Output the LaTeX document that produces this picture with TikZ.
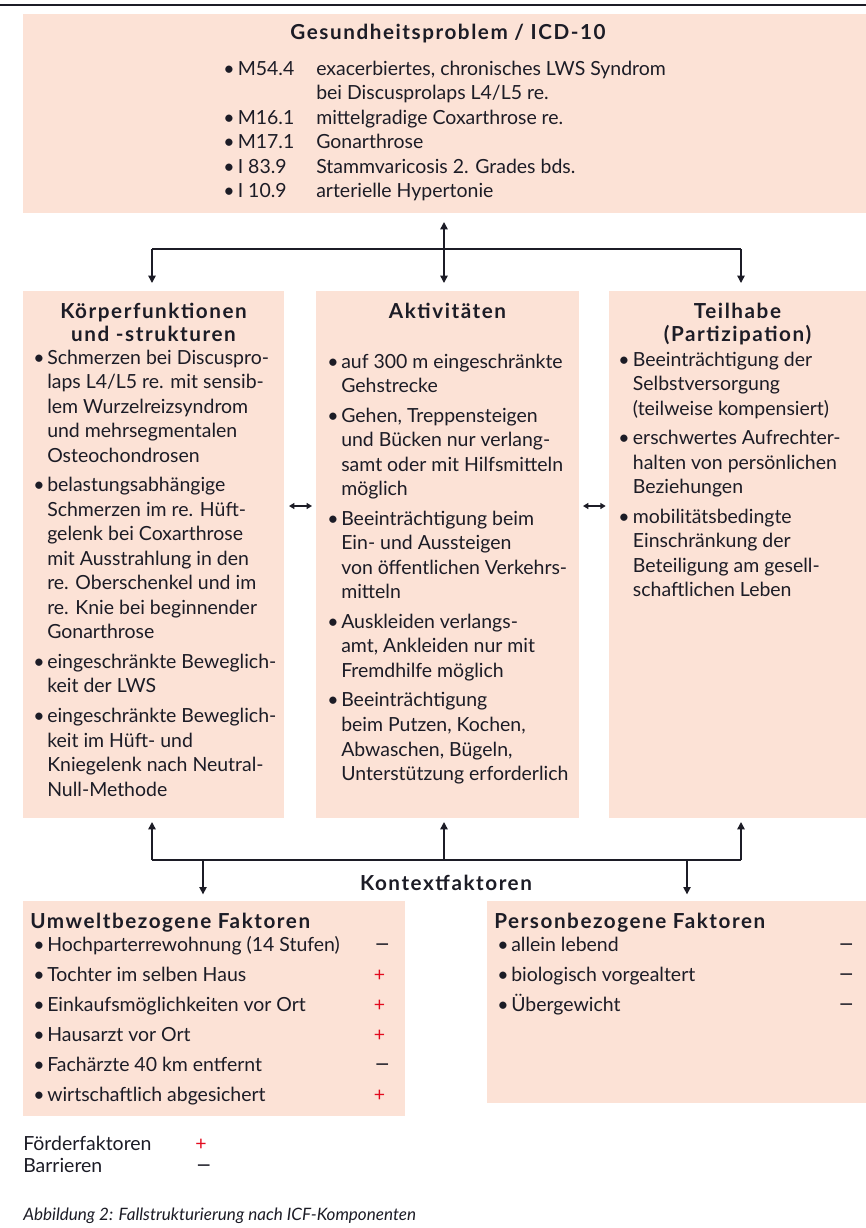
\documentclass[tikz,border=0pt]{standalone}
\usepackage{fontspec}
\setmainfont{Lato}
\newfontfamily\headfam{Lato}[LetterSpace=7.5]
\usetikzlibrary{arrows.meta,fit}
\definecolor{peach}{HTML}{FCE2D6}
\definecolor{ink}{HTML}{1C1C26}
\definecolor{plusred}{HTML}{E30A1E}
\newcommand\bodyfnt{\fontsize{14.6pt}{18.4pt}\selectfont}
\newcommand\headfnt{\headfam\fontsize{15.5pt}{17.5pt}\selectfont\bfseries}
\newcommand\capfnt{\fontsize{12.8pt}{15pt}\selectfont\itshape}
\newcommand\pl{\textcolor{plusred}{+}}
\newcommand\mi{\scalebox{1.5}[1.2]{–}}
\newcommand\bu{\textbullet}
\begin{document}
\begin{tikzpicture}[x=0.75pt,y=-0.75pt,
  box/.style={fill=peach, draw=none, inner sep=0pt, outer sep=0pt},
  txt/.style={inner sep=0pt, text=ink, font=\bodyfnt},
  hd/.style={inner sep=0pt, text=ink, font=\headfnt},
  capt/.style={inner sep=0pt, text=ink, font=\capfnt},
  conn/.style={draw=ink, line width=1.1pt},
  tip/.style={-{Triangle[width=5.5pt,length=5.5pt]}},
  dbl/.style={{Triangle[width=4.5pt,length=4pt]}-{Triangle[width=4.5pt,length=4pt]}}]
\useasboundingbox (0,0) rectangle (866,1228);
\fill[white] (0,0) rectangle (866,1228);
\draw[line width=1.7pt, ink] (0,5) -- (866,5);

% boxes
\node[box, fit={(23,14) (866,213)}] (gp) {};
\node[box, fit={(23,291) (284,818)}] (kt) {};
\node[box, fit={(316,291) (579,818)}] (ak) {};
\node[box, fit={(609,291) (866,818)}] (tp) {};
\node[box, fit={(23,901) (405,1116)}] (uw) {};
\node[box, fit={(487,901) (866,1103)}] (pb) {};

% top box
\node[hd, anchor=base] (gpt) at (448,39) {Gesundheitsproblem / ICD-10};
\node[txt, anchor=base west] (gpl) at (223,75) {\begin{tabular}[t]{@{}p{69.75pt}@{}l@{}}
\bu\,M54.4 & exacerbiertes, chronisches LWS Syndrom\\
 & bei Discusprolaps L4/L5 re.\\
\bu\,M16.1 & mittelgradige Coxarthrose re.\\
\bu\,M17.1 & Gonarthrose\\
\bu\,I 83.9 & Stammvaricosis 2. Grades bds.\\
\bu\,I 10.9 & arterielle Hypertonie
\end{tabular}};

% left column
\node[hd, anchor=base] (kth) at (153.5,318) {\begin{tabular}[t]{@{}c@{}}Körperfunktionen\\und -strukturen\end{tabular}};
\node[txt, anchor=base west] (ktl) at (33,364) {\begin{tabular}[t]{@{}p{10.5pt}@{}l@{}}
\bu & Schmerzen bei Discuspro-\\
 & laps L4/L5 re. mit sensib-\\
 & lem Wurzelreizsyndrom\\
 & und mehrsegmentalen\\
 & Osteochondrosen\\[3.75pt]
\bu & belastungsabhängige\\
 & Schmerzen im re. Hüft-\\
 & gelenk bei Coxarthrose\\
 & mit Ausstrahlung in den\\
 & re. Oberschenkel und im\\
 & re. Knie bei beginnender\\
 & Gonarthrose\\[3.75pt]
\bu & eingeschränkte Beweglich-\\
 & keit der LWS\\[3.75pt]
\bu & eingeschränkte Beweglich-\\
 & keit im Hüft- und\\
 & Kniegelenk nach Neutral-\\
 & Null-Methode
\end{tabular}};

% middle column
\node[hd, anchor=base] (akh) at (447.5,318) {Aktivitäten};
\node[txt, anchor=base west] (akl) at (327,368) {\begin{tabular}[t]{@{}p{10.5pt}@{}l@{}}
\bu & auf 300 m eingeschränkte\\
 & Gehstrecke\\[3.75pt]
\bu & Gehen, Treppensteigen\\
 & und Bücken nur verlang-\\
 & samt oder mit Hilfsmitteln\\
 & möglich\\[3.75pt]
\bu & Beeinträchtigung beim\\
 & Ein- und Aussteigen\\
 & von öffentlichen Verkehrs-\\
 & mitteln\\[3.75pt]
\bu & Auskleiden verlangs-\\
 & amt, Ankleiden nur mit\\
 & Fremdhilfe möglich\\[3.75pt]
\bu & Beeinträchtigung\\
 & beim Putzen, Kochen,\\
 & Abwaschen, Bügeln,\\
 & Unterstützung erforderlich
\end{tabular}};

% right column
\node[hd, anchor=base] (tph) at (737.5,318) {\begin{tabular}[t]{@{}c@{}}Teilhabe\\(Partizipation)\end{tabular}};
\node[txt, anchor=base west] (tpl) at (618,366) {\begin{tabular}[t]{@{}p{11pt}@{}l@{}}
\bu & Beeinträchtigung der\\
 & Selbstversorgung\\
 & (teilweise kompensiert)\\[3.75pt]
\bu & erschwertes Aufrechter-\\
 & halten von persönlichen\\
 & Beziehungen\\[3.75pt]
\bu & mobilitätsbedingte\\
 & Einschränkung der\\
 & Beteiligung am gesell-\\
 & schaftlichen Leben
\end{tabular}};

% top connectors
\coordinate (t1) at (152,249);
\coordinate (t2) at (444,249);
\coordinate (t3) at (741,249);
\draw[conn] (t1) -- (t3);
\draw[conn, {Triangle[width=5.5pt,length=5.5pt]}-{Triangle[width=5.5pt,length=5.5pt]}, shorten <=6.75pt, shorten >=6pt] (t2 |- gp.south) -- (t2 |- ak.north);
\draw[conn, tip, shorten >=6pt] (t1) -- (t1 |- kt.north);
\draw[conn, tip, shorten >=6pt] (t3) -- (t3 |- tp.north);

% side double arrows
\coordinate (ay) at (0,506);
\draw[conn, dbl, shorten <=3.75pt, shorten >=3pt] (kt.east |- ay) -- (ak.west |- ay);
\draw[conn, dbl, shorten <=3pt, shorten >=2.5pt] (ak.east |- ay) -- (tp.west |- ay);

% bottom connectors
\coordinate (b1) at (152,860);
\coordinate (b2) at (444,860);
\coordinate (b3) at (741,860);
\coordinate (d1) at (203,860);
\coordinate (d2) at (687,860);
\draw[conn] (b1) -- (b3);
\draw[conn, tip, shorten >=3pt] (b1) -- (b1 |- kt.south);
\draw[conn, tip, shorten >=3pt] (b2) -- (b2 |- ak.south);
\draw[conn, tip, shorten >=3pt] (b3) -- (b3 |- tp.south);
\draw[conn, tip, shorten >=5pt] (d1) -- (d1 |- uw.north);
\draw[conn, tip, shorten >=5pt] (d2) -- (d2 |- pb.north);
\node[hd, anchor=base] (kf) at (446,890) {Kontextfaktoren};

% Umwelt
\node[hd, anchor=base west] (uwt) at (30,928) {Umweltbezogene Faktoren};
\node[txt, anchor=base west] (uwl) at (33,951) {\begin{tabular}[t]{@{}p{10.5pt}@{}p{245pt}@{}l@{}}
\bu & Hochparterrewohnung (14 Stufen) & \mi\\[4.1pt]
\bu & Tochter im selben Haus & \pl\\[4.1pt]
\bu & Einkaufsmöglichkeiten vor Ort & \pl\\[4.1pt]
\bu & Hausarzt vor Ort & \pl\\[4.1pt]
\bu & Fachärzte 40 km entfernt & \mi\\[4.1pt]
\bu & wirtschaftlich abgesichert & \pl
\end{tabular}};

% Person
\node[hd, anchor=base west] (pbt) at (494,928) {Personbezogene Faktoren};
\node[txt, anchor=base west] (pbl) at (497,951) {\begin{tabular}[t]{@{}p{10.5pt}@{}p{245pt}@{}l@{}}
\bu & allein lebend & \mi\\[4.1pt]
\bu & biologisch vorgealtert & \mi\\[4.1pt]
\bu & Übergewicht & \mi
\end{tabular}};

% legend
\node[txt, anchor=base west] (lg) at (23,1150) {\begin{tabular}[t]{@{}p{129pt}@{}l@{}}
Förderfaktoren & \pl\\[-1.2pt]
Barrieren & \mi
\end{tabular}};

\node[capt, anchor=base west] (cap) at (23,1220) {Abbildung 2: Fallstrukturierung nach ICF-Komponenten};
\end{tikzpicture}
\end{document}
